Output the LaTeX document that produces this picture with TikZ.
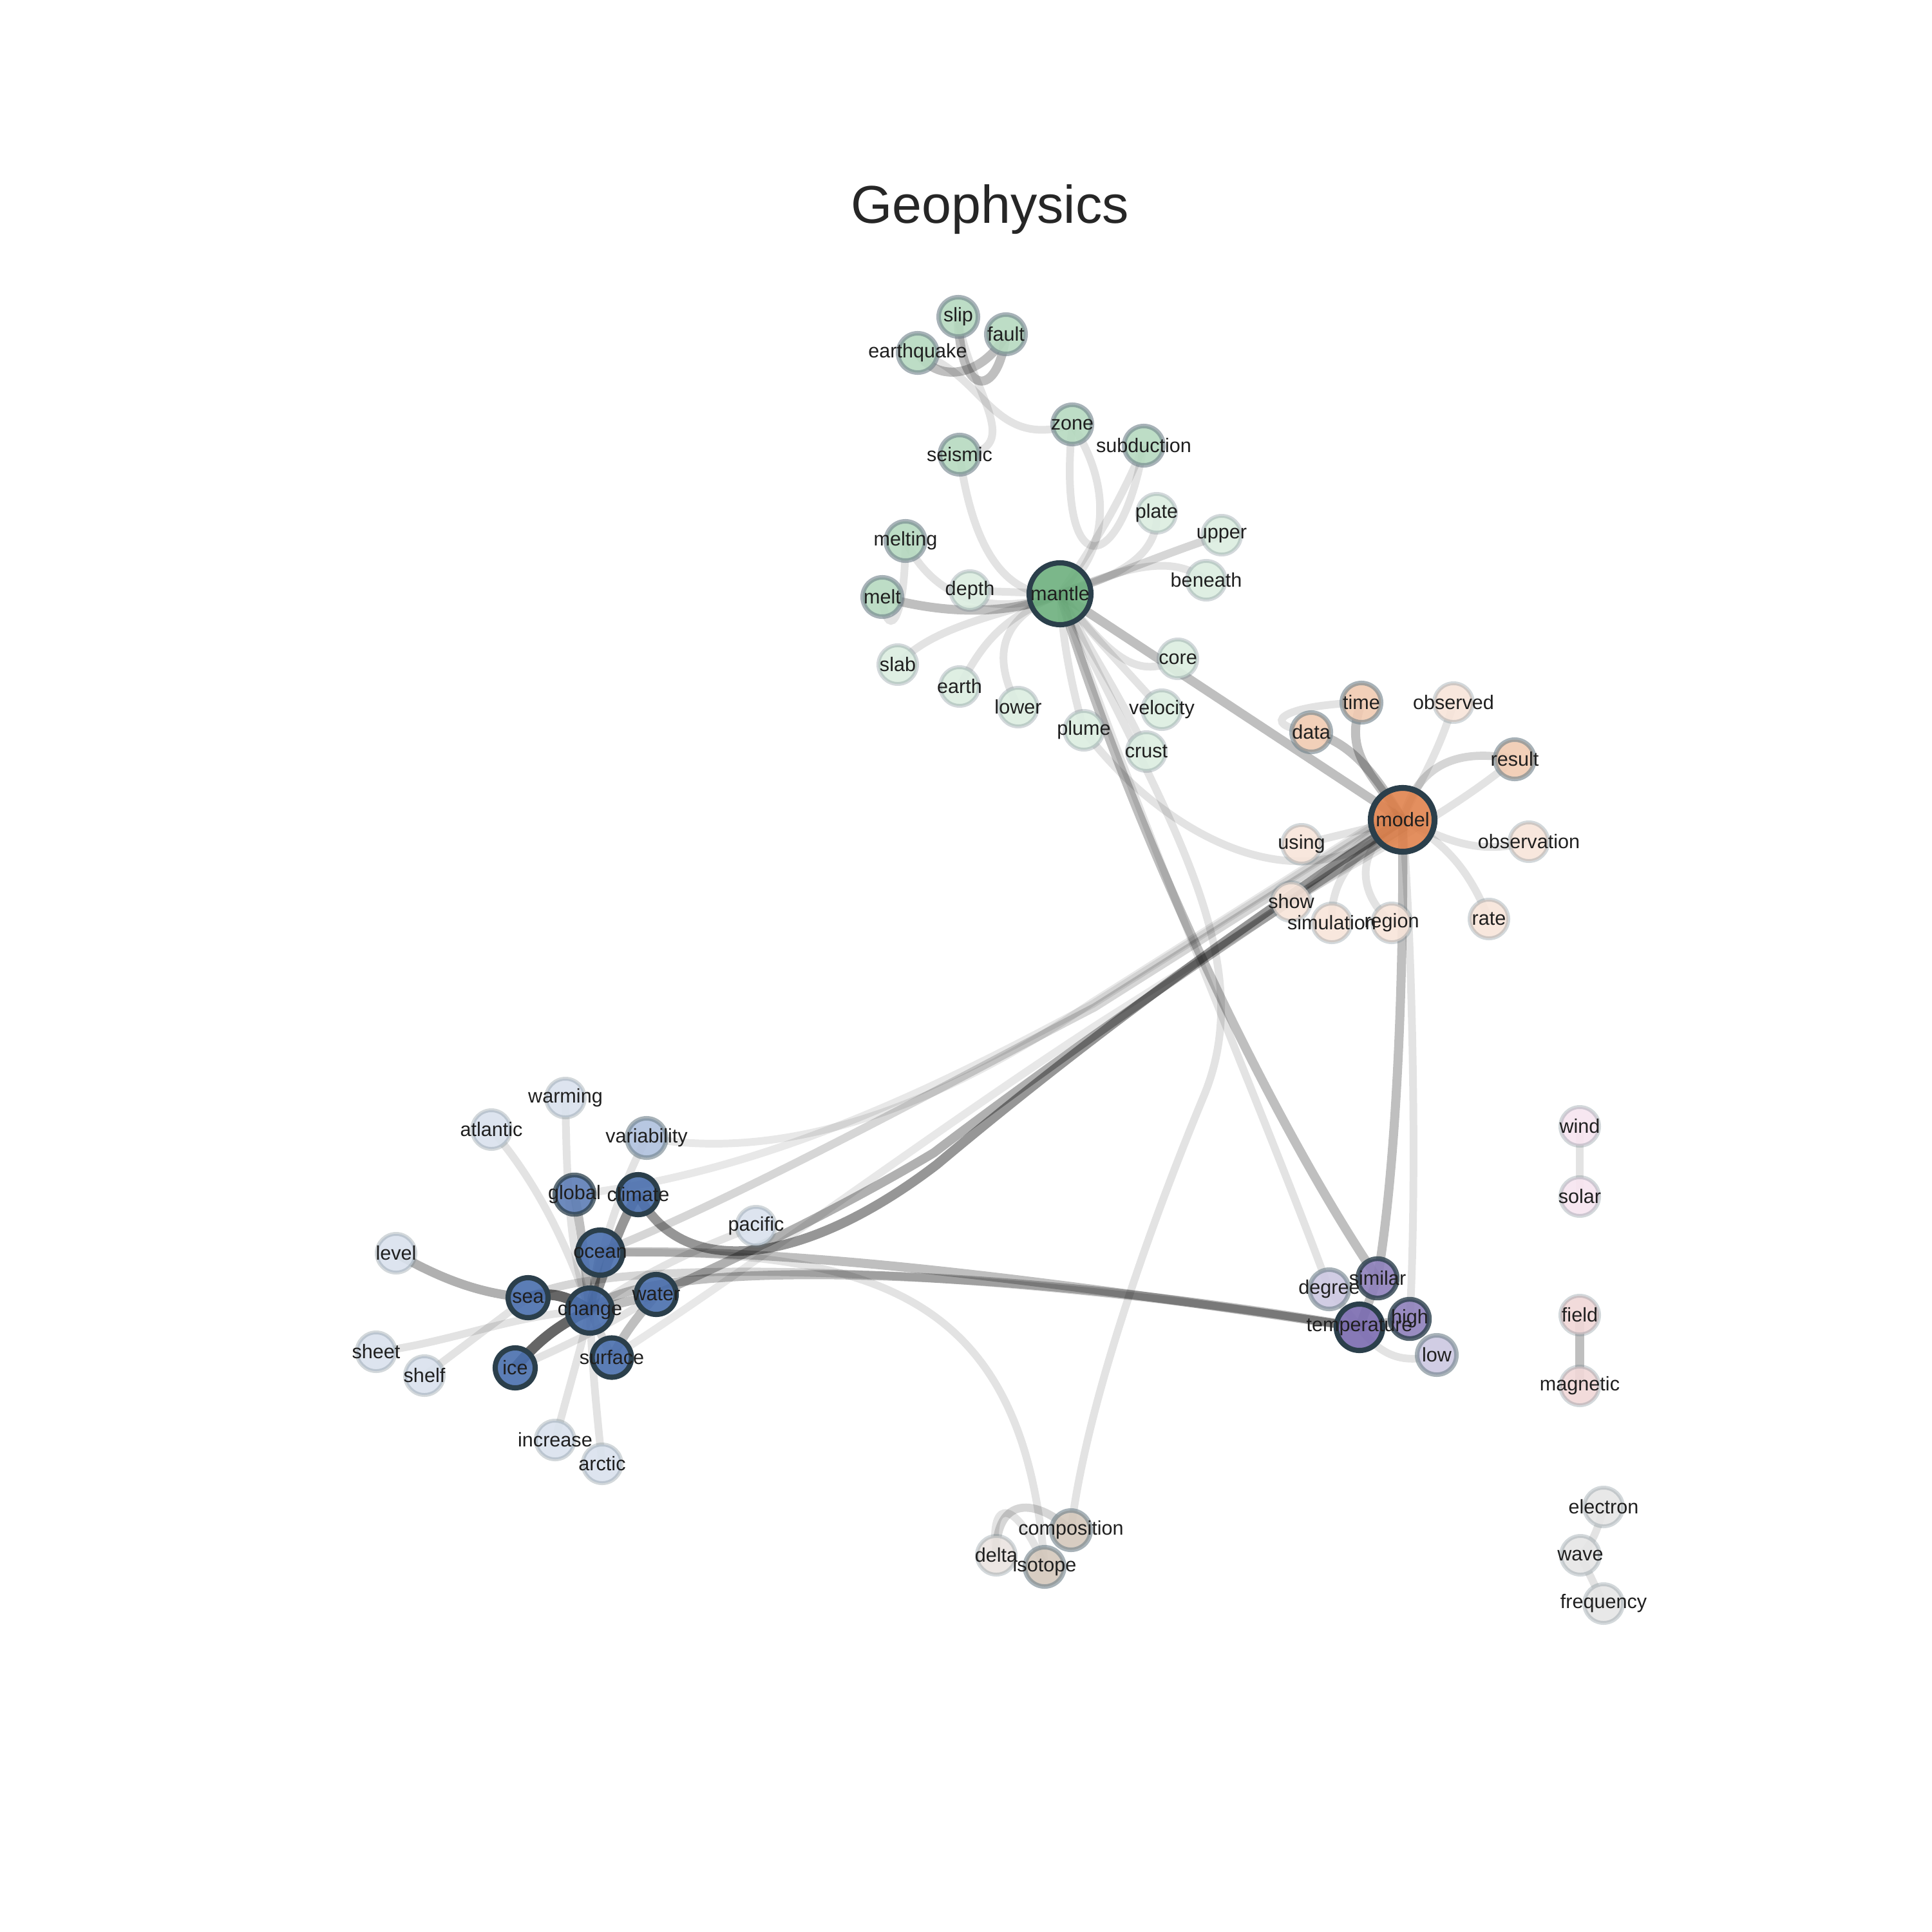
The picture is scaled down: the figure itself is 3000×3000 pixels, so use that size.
\documentclass[tikz,border=0pt]{standalone}
\usepackage{fontspec}
\setmainfont{Liberation Sans}
\usetikzlibrary{backgrounds}
\pgfdeclarelayer{lbllayer}
\pgfsetlayers{background,main,lbllayer}
\definecolor{gBig}{HTML}{6DB07E}
\definecolor{gMid}{HTML}{B6DAC0}
\definecolor{gLight}{HTML}{DCEEE1}
\definecolor{oBig}{HTML}{E0834E}
\definecolor{oMid}{HTML}{F1CBB2}
\definecolor{oLight}{HTML}{F8E5DA}
\definecolor{bDark}{HTML}{4A6FAE}
\definecolor{bGlobal}{HTML}{5E7EB6}
\definecolor{bVar}{HTML}{B0C1DE}
\definecolor{bLight}{HTML}{DAE2EE}
\definecolor{pDark}{HTML}{7A6BB0}
\definecolor{pMid}{HTML}{8E80BB}
\definecolor{pLight}{HTML}{CDC8E2}
\definecolor{rLight}{HTML}{F1D8D8}
\definecolor{mLight}{HTML}{F7E5F0}
\definecolor{tMid}{HTML}{D4C8BC}
\definecolor{tLight}{HTML}{EAE4E0}
\definecolor{grLight}{HTML}{E6E6E6}
\definecolor{bordDark}{HTML}{2B3F4B}
\definecolor{bordGray}{HTML}{6E8089}
\definecolor{labelc}{HTML}{1F1F1F}
\definecolor{titlec}{HTML}{262626}
\tikzset{
  nb/.style={circle, inner sep=0pt, outer sep=0pt, fill opacity=0.9},
  lt/.style={nb, draw=bordGray, draw opacity=0.3, line width=1.7pt, minimum size=0.60cm},
  md/.style={nb, draw=bordGray, draw opacity=0.6, line width=2pt, minimum size=0.61cm},
  dk/.style={nb, draw=bordDark, line width=2.3pt, minimum size=0.62cm},
  lbl/.style={font=\fontsize{8.7}{10}\selectfont, text=labelc, inner sep=0pt},
  ea/.style={draw=black, draw opacity=0.11, line width=3.4pt},
  eab/.style={draw=black, draw opacity=0.09, line width=3.4pt},
  eb/.style={draw=black, draw opacity=0.16, line width=3.6pt},
  ec/.style={draw=black, draw opacity=0.25, line width=4pt},
  ed/.style={draw=black, draw opacity=0.31, line width=4pt},
  ee/.style={draw=black, draw opacity=0.41, line width=4.2pt},
  ef/.style={draw=black, draw opacity=0.6, line width=4.6pt}
}
\newcommand\wn[5]{\node[#1] (#2) at (#3,#4) {};\begin{pgfonlayer}{lbllayer}\node[lbl] (#2-t) at (#3,#4) {#5};\end{pgfonlayer}}
\begin{document}
\begin{tikzpicture}[x=0.01cm, y=-0.01cm]
\useasboundingbox (0,0) rectangle (3000,3000);
\node[font=\fontsize{23.5}{28}\selectfont, text=titlec, inner sep=0pt] (title) at (1537,325) {Geophysics};
% green cluster
\wn{md,fill=gMid}{slip}{1488}{492}{slip}
\wn{md,fill=gMid}{fault}{1562}{519}{fault}
\wn{md,fill=gMid}{earthquake}{1425}{548}{earthquake}
\wn{md,fill=gMid}{zone}{1665}{659}{zone}
\wn{md,fill=gMid}{subduction}{1776}{692}{subduction}
\wn{md,fill=gMid}{seismic}{1490}{706}{seismic}
\wn{lt,fill=gLight}{plate}{1796}{797}{plate}
\wn{lt,fill=gLight}{upper}{1897}{831}{upper}
\wn{lt,fill=gLight}{beneath}{1873}{901}{beneath}
\wn{md,fill=gMid}{melting}{1406}{840}{melting}
\wn{md,fill=gMid}{melt}{1370}{927}{melt}
\wn{lt,fill=gLight}{depth}{1506}{917}{depth}
\wn{dk,fill=gBig,minimum size=0.96cm}{mantle}{1646}{922}{mantle}
\wn{lt,fill=gLight}{core}{1829}{1023}{core}
\wn{lt,fill=gLight}{slab}{1394}{1032}{slab}
\wn{lt,fill=gLight}{earth}{1490}{1066}{earth}
\wn{lt,fill=gLight}{lower}{1581}{1098}{lower}
\wn{lt,fill=gLight}{plume}{1683}{1134}{plume}
\wn{lt,fill=gLight}{velocity}{1804}{1102}{velocity}
\wn{lt,fill=gLight}{crust}{1780}{1167}{crust}
% orange cluster
\wn{md,fill=oMid}{time}{2114}{1091}{time}
\wn{lt,fill=oLight}{observed}{2257}{1091}{observed}
\wn{md,fill=oMid}{data}{2036}{1137}{data}
\wn{md,fill=oMid}{result}{2352}{1179}{result}
\wn{dk,fill=oBig,minimum size=0.99cm,line width=2.6pt}{model}{2178}{1273}{model}
\wn{lt,fill=oLight}{using}{2021}{1311}{using}
\wn{lt,fill=oLight}{observation}{2374}{1307}{observation}
\wn{lt,fill=oLight}{show}{2005}{1400}{show}
\wn{lt,fill=oLight}{simulation}{2068}{1433}{simulation}
\wn{lt,fill=oLight}{region}{2161}{1433}{region}
\wn{lt,fill=oLight}{rate}{2312}{1427}{rate}
% blue cluster
\wn{lt,fill=bLight}{warming}{878}{1705}{warming}
\wn{lt,fill=bLight}{atlantic}{763}{1754}{atlantic}
\wn{md,fill=bVar}{variability}{1004}{1767}{variability}
\wn{dk,fill=bGlobal,draw opacity=0.75,line width=2.1pt,minimum size=0.61cm}{global}{892}{1855}{global}
\wn{dk,fill=bDark}{climate}{991}{1855}{climate}
\wn{lt,fill=bLight}{pacific}{1174}{1904}{pacific}
\wn{lt,fill=bLight}{level}{615}{1946}{level}
\wn{dk,fill=bDark,minimum size=0.70cm}{ocean}{932}{1945}{ocean}
\wn{dk,fill=bDark}{sea}{820}{2015}{sea}
\wn{dk,fill=bDark}{water}{1019}{2010}{water}
\wn{dk,fill=bDark,minimum size=0.70cm}{change}{916}{2035}{change}
\wn{lt,fill=bLight}{sheet}{584}{2099}{sheet}
\wn{lt,fill=bLight}{shelf}{659}{2136}{shelf}
\wn{dk,fill=bDark}{ice}{800}{2124}{ice}
\wn{dk,fill=bDark,minimum size=0.61cm}{surface}{950}{2108}{surface}
\wn{lt,fill=bLight}{increase}{862}{2236}{increase}
\wn{lt,fill=bLight}{arctic}{935}{2273}{arctic}
% purple cluster
\wn{md,fill=pLight}{degree}{2064}{2002}{degree}
\wn{dk,fill=pMid,draw opacity=0.8,line width=2.1pt,minimum size=0.61cm}{similar}{2139}{1985}{similar}
\wn{dk,fill=pDark,minimum size=0.72cm}{temperature}{2111}{2061}{temperature}
\wn{dk,fill=pMid,draw opacity=0.8,line width=2.1pt,minimum size=0.61cm}{high}{2189}{2048}{high}
\wn{md,fill=pLight}{low}{2231}{2104}{low}
% small groups
\wn{lt,fill=mLight}{wind}{2453}{1749}{wind}
\wn{lt,fill=mLight}{solar}{2453}{1858}{solar}
\wn{lt,fill=rLight}{field}{2453}{2042}{field}
\wn{lt,fill=rLight}{magnetic}{2453}{2152}{magnetic}
\wn{lt,fill=grLight}{electron}{2490}{2340}{electron}
\wn{lt,fill=grLight}{wave}{2454}{2415}{wave}
\wn{lt,fill=grLight}{frequency}{2490}{2490}{frequency}
\wn{md,fill=tMid}{composition}{1663}{2376}{composition}
\wn{lt,fill=tLight}{delta}{1547}{2415}{delta}
\wn{md,fill=tMid}{isotope}{1622}{2433}{isotope}
\coordinate (j1) at (1700,1564);
\coordinate (j2) at (1697,1559);
\coordinate (j3) at (1695,1557);
\coordinate (j4) at (1713,1585);
\begin{pgfonlayer}{background}
\fill[white] (0,0) rectangle (3000,3000);
% green edges
\draw[ec] (earthquake.center) .. controls (1460,600) and (1530,580) .. (fault.center);
\draw[ec] (slip.center) .. controls (1490,620) and (1550,620) .. (fault.center);
\draw[ea] (earthquake.center) .. controls (1530,580) and (1540,700) .. (zone.center);
\draw[ea] (slip.center) .. controls (1500,600) and (1600,700) .. (seismic.center);
\draw[ea] (seismic.center) .. controls (1510,850) and (1560,930) .. (mantle.center);
\draw[ea] (zone.center) .. controls (1640,910) and (1740,900) .. (subduction.center);
\draw[ea] (zone.center) .. controls (1730,760) and (1720,860) .. (mantle.center);
\draw[ea] (subduction.center) .. controls (1740,780) and (1690,860) .. (mantle.center);
\draw[ea] (plate.center) .. controls (1800,870) and (1720,900) .. (mantle.center);
\draw[eb] (mantle.center) .. controls (1740,890) and (1820,855) .. (upper.center);
\draw[ea] (mantle.center) .. controls (1750,880) and (1820,860) .. (beneath.center);
\draw[ea] (melting.center) .. controls (1450,930) and (1540,960) .. (mantle.center);
\draw[ea] (melting.center) .. controls (1405,980) and (1375,990) .. (melt.center);
\draw[ec] (melt.center) .. controls (1470,955) and (1570,955) .. (mantle.center);
\draw[ea] (depth.center) -- (mantle.center);
\draw[ea] (slab.center) .. controls (1450,970) and (1560,955) .. (mantle.center);
\draw[ea] (earth.center) .. controls (1530,990) and (1560,960) .. (mantle.center);
\draw[ea] (lower.center) .. controls (1540,1020) and (1550,960) .. (mantle.center);
\draw[ea] (plume.center) .. controls (1660,1050) and (1650,990) .. (mantle.center);
\draw[ea] (velocity.center) .. controls (1730,1020) and (1690,980) .. (mantle.center);
\draw[ea] (core.center) .. controls (1760,1060) and (1720,1010) .. (mantle.center);
\draw[ea] (crust.center) .. controls (1740,1080) and (1680,990) .. (mantle.center);
\draw[ec] (mantle.center) -- (model.center);
\draw[ec] (mantle.center) .. controls (1760,1300) and (1980,1750) .. (similar.center);
\draw[ea] (mantle.center) .. controls (1800,1250) and (1960,1480) .. (1870,1700) .. controls (1820,1820) and (1690,2150) .. (composition.center);
\draw[ea] (mantle.center) .. controls (1790,1330) and (1960,1720) .. (degree.center);
% orange edges
\draw[ea] (plume.center) .. controls (1800,1290) and (2020,1420) .. (model.center);
\draw[ec] (data.center) .. controls (2090,1150) and (2130,1190) .. (model.center);
\draw[ec] (time.center) .. controls (2085,1170) and (2130,1200) .. (model.center);
\draw[ea] (time.center) .. controls (1990,1095) and (1950,1125) .. (data.center);
\draw[ea] (observed.center) .. controls (2235,1170) and (2200,1220) .. (model.center);
\draw[eb] (result.center) .. controls (2260,1160) and (2200,1190) .. (model.center);
\draw[ea] (result.center) .. controls (2250,1265) and (2100,1340) .. (show.center);
\draw[ea] (observation.center) .. controls (2290,1330) and (2240,1300) .. (model.center);
\draw[ea] (rate.center) .. controls (2285,1360) and (2250,1310) .. (model.center);
\draw[ea] (region.center) .. controls (2100,1380) and (2110,1310) .. (model.center);
\draw[ea] (simulation.center) .. controls (2065,1360) and (2110,1320) .. (model.center);
\draw[eab] (show.center) -- ([shift={(-8,-13)}]model.center);
\draw[ea] (using.center) -- (model.center);
\draw[ec] (model.center) .. controls (2180,1500) and (2170,1800) .. (similar.center);
\draw[ea] (model.center) .. controls (2195,1500) and (2200,1850) .. (high.center);
% model to blue cluster
\draw[eb] (ocean.center) .. controls (1150,1860) and (1495,1670) .. (j1) -- ([shift={(-5,-8)}]model.center);
\draw[eab] (global.center) .. controls (1200,1820) and (1480,1675) .. (j2) -- ([shift={(-8,-13)}]model.center);
\draw[eab] (variability.center) .. controls (1250,1810) and (1500,1690) .. (j3) -- ([shift={(-10,-15)}]model.center);
\draw[eab] (surface.center) .. controls (1150,1980) and (1480,1735) .. (j4) -- ([shift={(8,13)}]model.center);
\draw[ee] (climate.center) .. controls (1060,1990) and (1250,1965) .. (1455,1808) .. controls (1655,1640) and (1900,1455) .. (model.center);
\draw[ed] (water.center) .. controls (1130,1960) and (1300,1880) .. (1450,1790) .. controls (1650,1638) and (1905,1460) .. ([shift={(5,9)}]model.center);
% temperature bundle
\draw[ec] (ocean.center) .. controls (1250,1935) and (1700,2000) .. (temperature.center);
\draw[ec] (change.center) .. controls (1000,1950) and (1550,1965) .. (temperature.center);
\draw[eb] (sea.center) .. controls (950,1945) and (1550,1970) .. (temperature.center);
\draw[ea] (ocean.center) .. controls (1350,1940) and (1590,2000) .. (isotope.center);
% purple edges
\draw[ec] (temperature.center) -- (similar.center);
\draw[ec] (temperature.center) -- (high.center);
\draw[ea] (temperature.center) -- (degree.center);
\draw[ea] (temperature.center) .. controls (2150,2115) and (2190,2115) .. (low.center);
% composition edges
\draw[ea] (delta.center) .. controls (1535,2320) and (1580,2330) .. (isotope.center);
\draw[eb] (delta.center) .. controls (1545,2330) and (1600,2320) .. (composition.center);
% small groups
\draw[ea] (wind.center) -- (solar.center);
\draw[ec] (field.center) -- (magnetic.center);
\draw[ea] (electron.center) .. controls (2480,2380) and (2470,2400) .. (wave.center);
\draw[ea] (wave.center) -- (frequency.center);
% blue edges
\draw[ed] (level.center) .. controls (700,1995) and (760,2010) .. (sea.center);
\draw[ef] (sea.center) .. controls (850,2005) and (880,2010) .. (change.center);
\draw[ea] (sheet.center) .. controls (700,2085) and (800,2040) .. (change.center);
\draw[ea] (shelf.center) -- (sea.center);
\draw[ef] (ice.center) .. controls (840,2075) and (880,2050) .. (change.center);
\draw[ea] (ice.center) .. controls (880,2090) and (960,2050) .. (water.center);
\draw[ec] (surface.center) .. controls (975,2060) and (995,2040) .. (water.center);
\draw[eb] (surface.center) -- (change.center);
\draw[ea] (warming.center) .. controls (880,1850) and (885,1950) .. (change.center);
\draw[ea] (atlantic.center) .. controls (830,1830) and (880,1930) .. (change.center);
\draw[ea] (variability.center) .. controls (960,1850) and (930,1950) .. (change.center);
\draw[ec] (global.center) .. controls (905,1920) and (910,1980) .. (change.center);
\draw[ee] (climate.center) .. controls (960,1900) and (935,1990) .. (change.center);
\draw[ed] (ocean.center) -- (change.center);
\draw[ea] (increase.center) .. controls (885,2150) and (900,2100) .. (change.center);
\draw[ea] (arctic.center) .. controls (925,2180) and (918,2100) .. (change.center);
\draw[ea] (pacific.center) .. controls (1050,1950) and (980,1990) .. (change.center);
\draw[ec] (water.center) -- (change.center);
\end{pgfonlayer}
\end{tikzpicture}
\end{document}
